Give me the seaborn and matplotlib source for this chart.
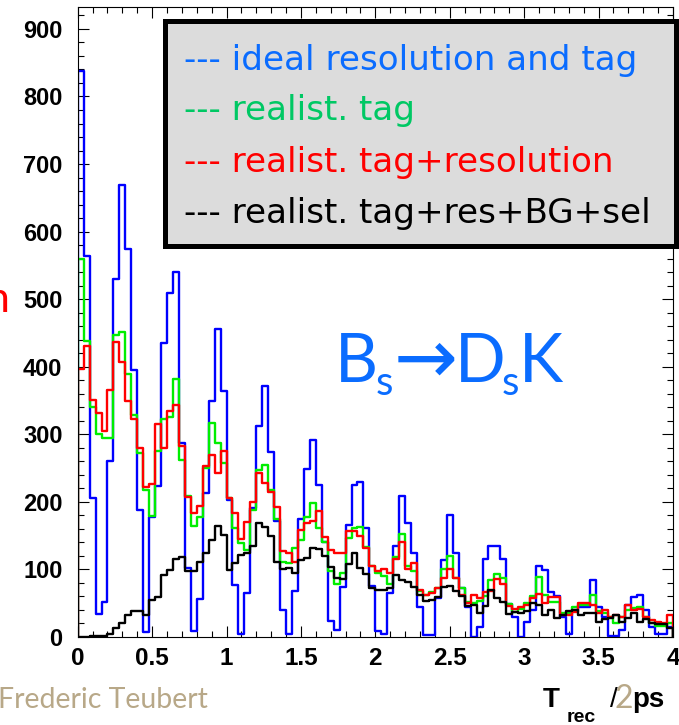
import numpy as np
import pandas as pd
import matplotlib
matplotlib.use("Agg")
import matplotlib.pyplot as plt
import seaborn as sns
from matplotlib.patches import Rectangle

# Reconstructed proper-time distributions, 100 bins of 0.04 ps in [0, 4] ps
t_min, t_max, n_bins = 0.0, 4.0, 100

ideal = [838, 564, 206, 34, 52, 260, 530, 669, 574, 395,
         188, 7, 178, 223, 435, 509, 540, 287, 102, 9,
         56, 213, 350, 456, 364, 203, 77, 4, 65, 191,
         313, 371, 274, 171, 40, 4, 68, 174, 248, 291,
         225, 140, 24, 11, 74, 166, 225, 230, 161, 75,
         9, 5, 65, 134, 208, 168, 125, 45, 3, 3,
         58, 114, 181, 125, 72, 45, 0, 15, 116, 134,
         134, 116, 49, 29, 0, 22, 40, 105, 99, 66,
         60, 29, 4, 40, 44, 44, 85, 44, 30, 2,
         2, 10, 47, 59, 62, 40, 15, 5, 5, 15]

realist_tag = [559, 438, 341, 301, 294, 294, 447, 451, 389, 328,
               272, 217, 179, 275, 322, 325, 382, 262, 208, 164,
               178, 250, 316, 287, 258, 205, 161, 139, 129, 188,
               247, 254, 217, 174, 111, 110, 131, 143, 177, 199,
               161, 141, 97, 79, 94, 146, 162, 163, 133, 105,
               95, 90, 78, 118, 152, 105, 98, 68, 62, 66,
               72, 100, 120, 87, 72, 52, 50, 54, 60, 85,
               93, 87, 49, 37, 42, 51, 61, 89, 62, 52,
               52, 36, 36, 44, 48, 48, 62, 39, 35, 30,
               21, 29, 40, 43, 44, 30, 21, 16, 16, 21]

realist_tag_res = [396, 430, 351, 332, 305, 365, 436, 407, 349, 323,
                   279, 222, 227, 315, 279, 335, 343, 283, 207, 184,
                   194, 253, 270, 243, 276, 205, 183, 145, 170, 200,
                   242, 228, 215, 193, 128, 125, 111, 158, 168, 171,
                   186, 148, 129, 124, 125, 157, 157, 150, 131, 105,
                   97, 100, 94, 115, 141, 100, 109, 70, 62, 65,
                   72, 87, 101, 88, 62, 51, 62, 57, 67, 68,
                   86, 78, 46, 42, 45, 47, 58, 63, 50, 59,
                   59, 33, 33, 37, 50, 50, 48, 36, 40, 30,
                   32, 29, 47, 40, 42, 30, 25, 22, 21, 33]

realist_full = [0, 0, 2, 2, 2, 5, 14, 20, 33, 39,
                39, 33, 55, 59, 92, 99, 115, 119, 97, 98,
                111, 125, 143, 165, 151, 99, 109, 121, 125, 135,
                168, 163, 150, 111, 100, 102, 95, 114, 117, 131,
                130, 120, 104, 88, 86, 108, 125, 102, 93, 72,
                70, 70, 72, 92, 84, 82, 74, 62, 54, 55,
                59, 74, 76, 68, 60, 46, 48, 35, 46, 70,
                57, 52, 34, 37, 36, 38, 50, 47, 33, 40,
                28, 32, 38, 40, 32, 35, 35, 22, 27, 28,
                32, 22, 28, 36, 22, 27, 20, 19, 19, 14]

series_names = ["ideal resolution and tag", "realist. tag",
                "realist. tag+resolution", "realist. tag+res+BG+sel"]
line_colors = ["#0000ff", "#00ee00", "#ff0000", "#000000"]
text_colors = ["#0a6cff", "#00c864", "#ff0000", "#000000"]

x_ticks = [0, 0.5, 1, 1.5, 2, 2.5, 3, 3.5, 4]
x_tick_labels = ["0", "0.5", "1", "1.5", "2", "2.5", "3", "3.5", "4"]
y_ticks = [0, 100, 200, 300, 400, 500, 600, 700, 800, 900]
y_tick_labels = [str(v) for v in y_ticks]

W, H = 679, 725
def fx(px):
    return px / W
def fy(py):
    return 1 - py / H

sns.set_theme(style="white")
plt.rcParams["font.family"] = ["Liberation Sans", "DejaVu Sans"]

fig = plt.figure(figsize=(W / 100, H / 100), dpi=100)
ax = fig.add_axes([fx(77.7), fy(637), (673 - 77.7) / W, (637 - 7.3) / H])

# one empty bin on each side so every outline drops to zero at the range ends
width = (t_max - t_min) / n_bins
centers = t_min - width / 2 + width * np.arange(n_bins + 2)

for vals, col in zip([ideal, realist_tag, realist_tag_res, realist_full], line_colors):
    df = pd.DataFrame({"t": centers,
                       "n": np.concatenate([[0.0], np.asarray(vals, float), [0.0]])})
    sns.histplot(data=df, x="t", weights="n", bins=n_bins + 2,
                 binrange=(t_min - width, t_max + width),
                 element="step", fill=False, color=col, linewidth=1.7, ax=ax)

ax.set_xlim(t_min, t_max)
ax.set_ylim(0, 932)
ax.set_xlabel("")
ax.set_ylabel("")
ax.set_xticks(x_ticks)
ax.set_xticklabels(x_tick_labels)
ax.set_yticks(y_ticks)
ax.set_yticklabels(y_tick_labels)
ax.set_xticks(np.arange(0, 4.0001, 0.1), minor=True)
ax.set_yticks(np.arange(0, 932, 20), minor=True)
ax.tick_params(which="both", direction="in", top=True, right=True, bottom=True, left=True,
               labeltop=False, labelright=False, color="black", width=0.8)
ax.tick_params(which="major", length=8)
ax.tick_params(which="minor", length=4)
ax.tick_params(axis="y", which="major", pad=11, labelsize=17, labelcolor="black")
ax.tick_params(axis="x", which="major", pad=7, labelsize=17.5, labelcolor="black")
for lab in ax.get_xticklabels() + ax.get_yticklabels():
    lab.set_fontweight("bold")
for sp in ax.spines.values():
    sp.set_color("black")
    sp.set_linewidth(0.8)

# legend panel
fig.add_artist(Rectangle((fx(164.5), fy(245.5)), (676 - 164.5) / W, (245.5 - 20.5) / H,
                         transform=fig.transFigure, facecolor="#dcdcdc",
                         edgecolor="black", linewidth=3.6, zorder=5))
baselines = [70, 120, 172, 223]
for name, col, yb in zip(series_names, text_colors, baselines):
    fig.text(fx(184), fy(yb), "--- " + name, color=col, fontsize=24.6,
             family=["DejaVu Sans"], va="baseline", ha="left", zorder=6)

# decay channel, drawn piece by piece
chan_kw = dict(color="#0a6cff", va="baseline", ha="left", family=["Lato", "DejaVu Sans"])
fig.text(fx(335), fy(382), "B", fontsize=48, **chan_kw)
fig.text(fx(376), fy(395), "s", fontsize=29, **chan_kw)
fig.text(fx(426), fy(383), "\u2192", fontsize=55, color="#0a6cff", va="baseline",
         ha="center", family=["DejaVu Sans"])
fig.text(fx(455), fy(382), "D", fontsize=48, **chan_kw)
fig.text(fx(502), fy(395), "s", fontsize=29, **chan_kw)
fig.text(fx(519), fy(382), "K", fontsize=48, **chan_kw)

# axis title
fig.text(fx(543), fy(707), "T", fontsize=20, fontweight="bold", va="baseline", color="black")
fig.text(fx(567), fy(722), "rec", fontsize=14, fontweight="bold", va="baseline", color="black")
fig.text(fx(610), fy(707), "/", fontsize=20, va="baseline", color="black")
fig.text(fx(632), fy(707), "ps", fontsize=20, fontweight="bold", va="baseline", color="black")
fig.text(fx(614), fy(708), "2", fontsize=23, color="#b8a888",
         family=["Lato", "DejaVu Sans"], va="baseline")

# slide footer and margin text
fig.text(fx(-2), fy(708), "Frederic Teubert", fontsize=20.5, color="#b8a888",
         family=["Lato", "DejaVu Sans"], va="baseline", ha="left")
fig.text(fx(10), fy(312), "n", fontsize=31, color="#ff0000",
         family=["Lato", "DejaVu Sans"], va="baseline", ha="right")

fig.savefig("out.png", dpi=100)
